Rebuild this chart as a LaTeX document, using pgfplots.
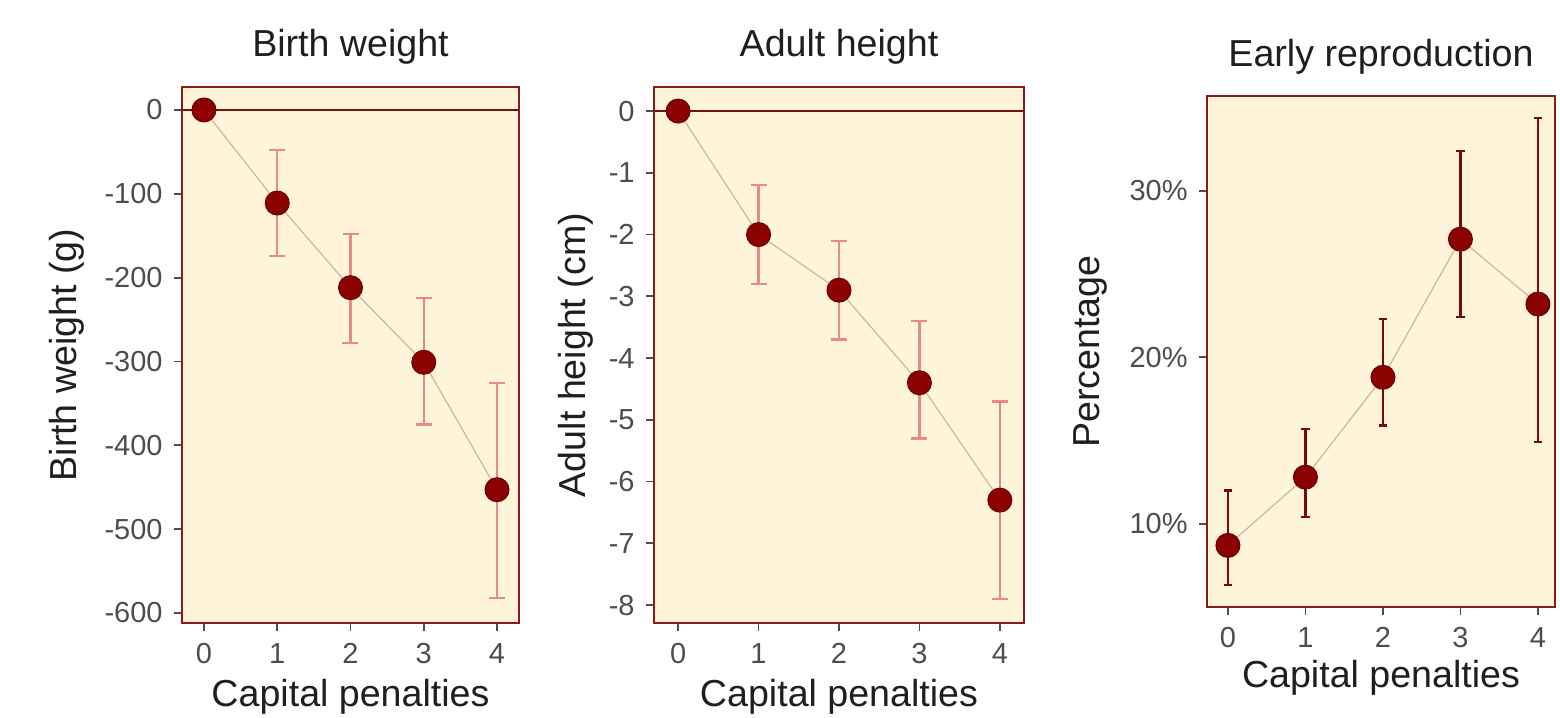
\documentclass[border=0pt]{standalone}
\usepackage{pgfplots}
\pgfplotsset{compat=1.18}
\usepackage{fontspec}
\setmainfont{Liberation Sans}
\definecolor{bgc}{HTML}{FEF4D9}
\definecolor{framec}{HTML}{8B1A1A}
\definecolor{ptc}{HTML}{8B0000}
\definecolor{ptedge}{HTML}{6A0000}
\definecolor{connc}{HTML}{C9B89E}
\definecolor{errp}{HTML}{E8898A}
\definecolor{errd}{HTML}{7A0A0A}
\definecolor{tickc}{HTML}{4D4D4D}
\definecolor{zline}{HTML}{6E1212}
\pgfplotsset{
  panel/.style={
    scale only axis,
    axis background/.style={fill=bgc},
    axis line style={framec, line width=1pt},
    tick align=outside, major tick length=4pt,
    tick style={color=tickc, line width=0.9pt},
    xtick pos=left, ytick pos=left,
    xtick={0,1,2,3,4},
    /pgf/number format/assume math mode=true,
    ticklabel style={font=\fontsize{14.5}{14.5}\selectfont, text=tickc},
    xticklabel style={inner sep=0pt, anchor=north, yshift=-6pt},
    yticklabel style={inner sep=0pt, anchor=east, xshift=-5.5pt},
    label style={font=\fontsize{18.8}{18.8}\selectfont, text=black!88},
    title style={font=\fontsize{18.8}{18.8}\selectfont, text=black!88},
    xlabel={Capital penalties},
  },
  connline/.style={connc, line width=0.6pt, mark=none},
  dots/.style={only marks, mark=*, mark size=6pt, mark options={fill=ptc, draw=ptedge, line width=0.5pt}},
}
\begin{document}
\begin{tikzpicture}
\path[use as bounding box] (0,0) rectangle (780pt,359pt);
% Panel 1
\begin{axis}[panel, at={(91pt,47.5pt)}, anchor=south west,
  width=168.5pt, height=268pt,
  xmin=-0.3, xmax=4.3, ymin=-612, ymax=27.4,
  ytick={-600,-500,-400,-300,-200,-100,0},
  yticklabels={-600,-500,-400,-300,-200,-100,0},
  title={Birth weight},
  title style={at={(axis description cs:0.5,1.0354)}, anchor=base},
  xlabel style={at={(axis description cs:0.5,-0.1567)}, anchor=base},
  ylabel={Birth weight (g)},
  ylabel style={at={(axis description cs:-0.3116,0.5)}, anchor=base},
]
\addplot[zline, line width=1pt, mark=none] coordinates {(-0.3,0) (4.3,0)};
\addplot[errp, only marks, mark=none,
  error bars/.cd, y dir=both, y explicit, error mark=-,
  error bar style={errp, line width=1.2pt},
  error mark options={rotate=90, errp, line width=1.2pt, mark size=4pt}]
  coordinates {
  (1,-111) += (0,63) -= (0,63)
  (2,-212) += (0,64) -= (0,66)
  (3,-301) += (0,77) -= (0,74)
  (4,-453) += (0,127) -= (0,129)
  };
\addplot[dots] coordinates {(0,0) (1,-111) (2,-212) (3,-301) (4,-453)};
\addplot[connline] coordinates {(0,0) (1,-111) (2,-212) (3,-301) (4,-453)};
\end{axis}
% Panel 2
\begin{axis}[panel, at={(327pt,47.5pt)}, anchor=south west,
  width=185pt, height=268pt,
  xmin=-0.3, xmax=4.3, ymin=-8.29, ymax=0.39,
  ytick={-8,-7,-6,-5,-4,-3,-2,-1,0},
  yticklabels={-8,-7,-6,-5,-4,-3,-2,-1,0},
  title={Adult height},
  title style={at={(axis description cs:0.5,1.0354)}, anchor=base},
  xlabel style={at={(axis description cs:0.5,-0.1567)}, anchor=base},
  ylabel={Adult height (cm)},
  ylabel style={at={(axis description cs:-0.1865,0.5)}, anchor=base},
]
\addplot[zline, line width=1pt, mark=none] coordinates {(-0.3,0) (4.3,0)};
\addplot[errp, only marks, mark=none,
  error bars/.cd, y dir=both, y explicit, error mark=-,
  error bar style={errp, line width=1.2pt},
  error mark options={rotate=90, errp, line width=1.2pt, mark size=4pt}]
  coordinates {
  (1,-2.0) += (0,0.8) -= (0,0.8)
  (2,-2.9) += (0,0.8) -= (0,0.8)
  (3,-4.4) += (0,1.0) -= (0,0.9)
  (4,-6.3) += (0,1.6) -= (0,1.6)
  };
\addplot[dots] coordinates {(0,0) (1,-2.0) (2,-2.9) (3,-4.4) (4,-6.3)};
\addplot[connline] coordinates {(0,0) (1,-2.0) (2,-2.9) (3,-4.4) (4,-6.3)};
\end{axis}
% Panel 3
\begin{axis}[panel, at={(603.5pt,55.5pt)}, anchor=south west,
  width=174pt, height=255.5pt,
  xmin=-0.27, xmax=4.22, ymin=5, ymax=35.7,
  ytick={10,20,30},
  yticklabels={10\%,20\%,30\%},
  title={Early reproduction},
  title style={at={(axis description cs:0.5,1.0333)}, anchor=base},
  xlabel style={at={(axis description cs:0.5,-0.1585)}, anchor=base},
  ylabel={Percentage},
  ylabel style={at={(axis description cs:-0.3075,0.5)}, anchor=base},
]
\addplot[errd, only marks, mark=none,
  error bars/.cd, y dir=both, y explicit, error mark=-,
  error bar style={errd, line width=1.1pt},
  error mark options={rotate=90, errd, line width=1.1pt, mark size=2.2pt}]
  coordinates {
  (0,8.7) += (0,3.3) -= (0,2.4)
  (1,12.8) += (0,2.9) -= (0,2.4)
  (2,18.8) += (0,3.5) -= (0,2.9)
  (3,27.1) += (0,5.3) -= (0,4.7)
  (4,23.2) += (0,11.2) -= (0,8.3)
  };
\addplot[dots] coordinates {(0,8.7) (1,12.8) (2,18.8) (3,27.1) (4,23.2)};
\addplot[connline] coordinates {(0,8.7) (1,12.8) (2,18.8) (3,27.1) (4,23.2)};
\end{axis}
\end{tikzpicture}
\end{document}
